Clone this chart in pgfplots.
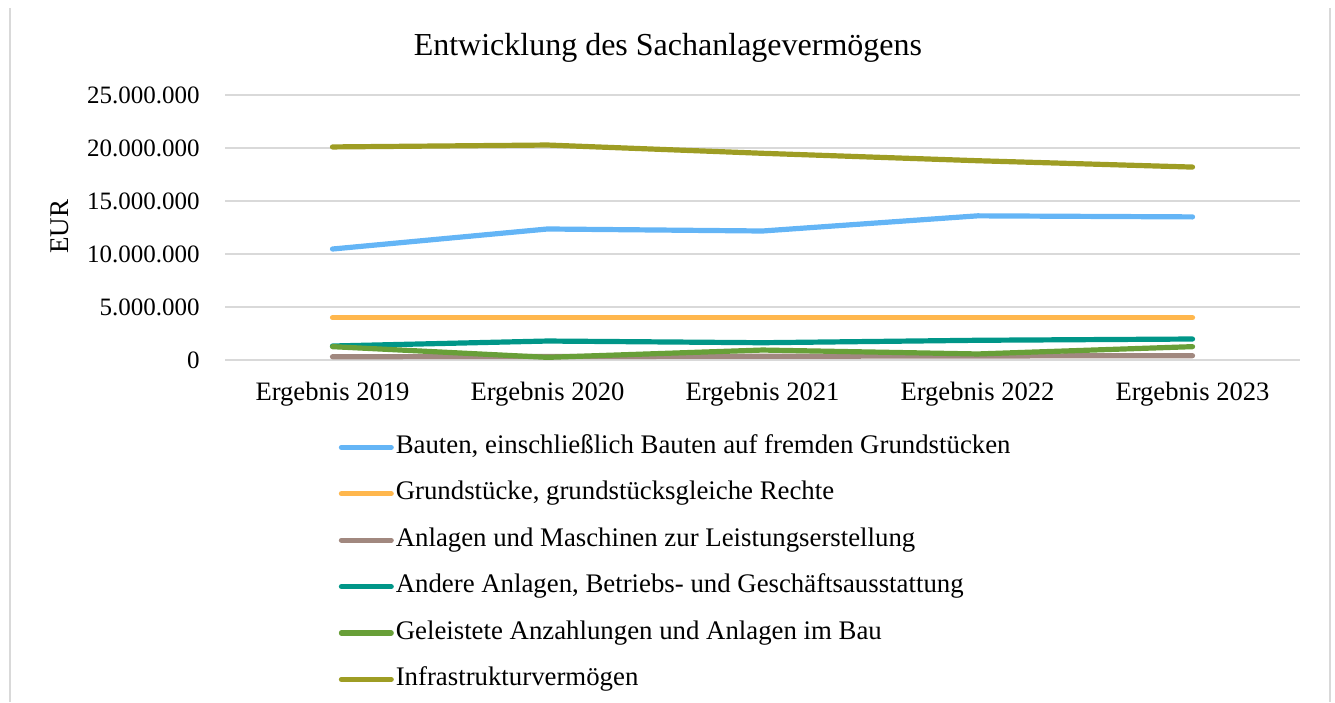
\documentclass[border=0pt]{standalone}
\usepackage{fontspec}
\setmainfont{Liberation Serif}
\usepackage{pgfplots}
\pgfplotsset{compat=1.18}
\definecolor{cBau}{HTML}{64B5F6}
\definecolor{cGrund}{HTML}{FFB74D}
\definecolor{cMasch}{HTML}{A1887F}
\definecolor{cAndere}{HTML}{009688}
\definecolor{cGeleist}{HTML}{689F38}
\definecolor{cInfra}{HTML}{9E9D24}
\definecolor{cGrid}{HTML}{D9D9D9}
\begin{document}
\begin{tikzpicture}[x=1bp,y=1bp]
\useasboundingbox (0,0) rectangle (667.5,351);
\draw[cGrid, line width=0.75bp] (5,0) -- (5,347);
\draw[cGrid, line width=0.75bp] (665,0) -- (665,347);
\begin{axis}[
  at={(112.5bp,171bp)}, anchor=south west,
  scale only axis, width=537.5bp, height=132.5bp,
  xmin=-0.5, xmax=4.5, ymin=0, ymax=25000000,
  xtick={0,1,2,3,4},
  xticklabels={Ergebnis 2019,Ergebnis 2020,Ergebnis 2021,Ergebnis 2022,Ergebnis 2023},
  ytick={0,5000000,10000000,15000000,20000000,25000000},
  yticklabels={0,5.000.000,10.000.000,15.000.000,20.000.000,25.000.000},
  scaled y ticks=false,
  axis line style={draw=none},
  major tick length=0pt,
  ymajorgrids, grid style={cGrid, line width=0.75bp},
  yticklabel style={font=\fontsize{12.5bp}{15bp}\selectfont, inner sep=0pt, anchor=east, xshift=-12.5bp},
  xticklabel style={font=\fontsize{13.3bp}{16bp}\selectfont, inner sep=0pt, anchor=center, yshift=-17bp},
  ylabel={EUR},
  ylabel style={font=\fontsize{13.5bp}{16bp}\selectfont, at={(axis description cs:-0.1535,0.502)}, anchor=center},
  title={Entwicklung des Sachanlagevermögens},
  title style={font=\fontsize{16bp}{19bp}\selectfont, at={(axis description cs:0.412,1.132)}, anchor=center},
  legend cell align=left,
  legend style={draw=none, fill=none, inner sep=0pt, row sep=11.2bp, column sep=1bp,
    at={(axis description cs:0.1055,-0.283)}, anchor=north west,
    nodes={inner sep=0pt, text height=9bp, text depth=3bp, font=\fontsize{13.4bp}{16bp}\selectfont}},
  legend image code/.code={\draw[#1, line cap=round] (1.3bp,0bp) -- (26.2bp,0bp);},
  every axis plot/.append style={line width=2.6bp, line join=round, line cap=round},
]
\addplot[cBau] coordinates {(0,10470000) (1,12360000) (2,12170000) (3,13600000) (4,13500000)};
\addlegendentry{Bauten, einschließlich Bauten auf fremden Grundstücken}
\addplot[cGrund] coordinates {(0,3990000) (1,3990000) (2,3990000) (3,3990000) (4,3990000)};
\addlegendentry{Grundstücke, grundstücksgleiche Rechte}
\addplot[cMasch] coordinates {(0,310000) (1,330000) (2,350000) (3,380000) (4,410000)};
\addlegendentry{Anlagen und Maschinen zur Leistungserstellung}
\addplot[cAndere] coordinates {(0,1320000) (1,1790000) (2,1630000) (3,1860000) (4,1980000)};
\addlegendentry{Andere Anlagen, Betriebs- und Geschäftsausstattung}
\addplot[cGeleist] coordinates {(0,1260000) (1,250000) (2,940000) (3,570000) (4,1260000)};
\addlegendentry{Geleistete Anzahlungen und Anlagen im Bau}
\addplot[cInfra] coordinates {(0,20100000) (1,20280000) (2,19500000) (3,18800000) (4,18200000)};
\addlegendentry{Infrastrukturvermögen}
\end{axis}
\end{tikzpicture}
\end{document}
